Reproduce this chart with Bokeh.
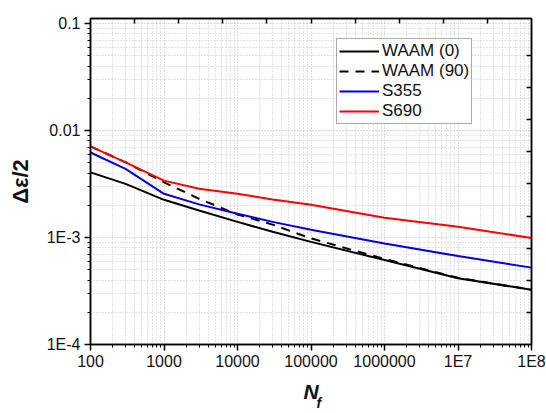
from bokeh.plotting import figure
from bokeh.models import (FixedTicker, LogAxis, Legend, LegendItem, Range1d, CustomJSTickFormatter)
from bokeh.embed import file_html
from bokeh.resources import INLINE

# ---- data ----
N = [100, 300, 1000, 3000, 1e4, 3e4, 1e5, 1e6, 1e7, 1e8]
waam0 = [0.00406, 0.00317, 0.00225, 0.00179, 0.00140, 0.00113, 0.00091, 0.000615, 0.000416, 0.000325]
waam90 = [0.0071, 0.00504, 0.00328, 0.00230, 0.00164, 0.00132, 0.00098, 0.00063, 0.00042, 0.000325]
s355 = [0.00623, 0.00437, 0.00256, 0.00204, 0.00167, 0.00140, 0.00118, 0.00088, 0.00067, 0.000523]
s690 = [0.0071, 0.00504, 0.0034, 0.00285, 0.00256, 0.00227, 0.00202, 0.00153, 0.00126, 0.00099]

x_ticks = [1e2, 1e3, 1e4, 1e5, 1e6, 1e7, 1e8]
x_tick_labels = ["100", "1000", "10000", "100000", "1000000", "1E7", "1E8"]
y_ticks = [1e-4, 1e-3, 1e-2, 1e-1]
y_tick_labels = ["1E-4", "1E-3", "0.01", "0.1"]
legend_labels = ["WAAM (0)", "WAAM (90)", "S355", "S690"]
x_title = "N"
x_title_sub = "f"
y_title = "Δε/2"

FONT = "Liberation Sans"

p = figure(width=546, height=413, x_axis_type="log", y_axis_type="log",
           x_range=Range1d(100, 1e8), y_range=Range1d(1e-4, 0.1113),
           output_backend="svg", toolbar_location=None,
           min_border_left=90, min_border_right=15, min_border_top=18, min_border_bottom=68)
p.background_fill_color = "white"
p.border_fill_color = "white"
p.outline_line_color = "black"
p.outline_line_width = 1.5

def minors(majors):
    out = []
    for m in majors[:-1]:
        out += [m * k for k in range(2, 10)]
    return out

p.xaxis.ticker = FixedTicker(ticks=x_ticks, minor_ticks=minors(x_ticks))
p.yaxis.ticker = FixedTicker(ticks=y_ticks, minor_ticks=minors(y_ticks))
p.xaxis.major_label_overrides = {t: l for t, l in zip(x_ticks, x_tick_labels)}
p.yaxis.major_label_overrides = {t: l for t, l in zip(y_ticks, y_tick_labels)}

for ax in (p.xaxis[0], p.yaxis[0]):
    ax.axis_line_color = "black"
    ax.axis_line_width = 1.5
    ax.major_tick_line_width = 1.5
    ax.minor_tick_line_width = 1
    ax.major_tick_in = 0
    ax.major_tick_out = 6
    ax.minor_tick_in = 0
    ax.minor_tick_out = 3
    ax.major_label_text_font = FONT
    ax.major_label_text_font_size = "16px"
    ax.major_label_text_color = "#111111"
    ax.axis_label_text_font = FONT
    ax.axis_label_text_color = "#111111"

p.xaxis.major_label_standoff = 2
p.yaxis.major_label_standoff = 4

p.yaxis.axis_label = y_title
p.yaxis.axis_label_text_font_size = "22px"
p.yaxis.axis_label_text_font_style = "bold"
p.yaxis.axis_label_standoff = 11

p.xaxis.axis_label = x_title
p.xaxis.axis_label_text_font_size = "21px"
p.xaxis.axis_label_text_font_style = "bold italic"
p.xaxis.axis_label_standoff = 7

for g in (p.xgrid[0], p.ygrid[0]):
    g.grid_line_color = "#b8b8b8"
    g.grid_line_dash = "1 2"
    g.grid_line_width = 1
    g.minor_grid_line_color = "#c8c8c8"
    g.minor_grid_line_dash = "1 2"
    g.minor_grid_line_width = 1

# subscript of the x title, as the label of an extra bare axis below
sub_axis = LogAxis(ticker=FixedTicker(ticks=[], minor_ticks=[]))
sub_axis.axis_line_color = None
sub_axis.major_tick_out = 0
sub_axis.minor_tick_out = 0
sub_axis.axis_label = "\u00a0" * 4 + x_title_sub
sub_axis.axis_label_text_font = FONT
sub_axis.axis_label_text_font_size = "14px"
sub_axis.axis_label_text_font_style = "bold italic"
sub_axis.axis_label_text_color = "#111111"
sub_axis.axis_label_standoff = -11
p.add_layout(sub_axis, "below")

# top and right frame axes with inward ticks, no labels
blank = CustomJSTickFormatter(code="return ''")
top_ticks = [10 ** (2 + 0.6 * k) for k in range(1, 10)]
right_ticks = [10 ** (-4 + 0.3 * k) for k in range(1, 10)]
top = LogAxis(ticker=FixedTicker(ticks=top_ticks, minor_ticks=[]), formatter=blank)
right = LogAxis(ticker=FixedTicker(ticks=right_ticks, minor_ticks=[]), formatter=blank)
for ax in (top, right):
    ax.axis_line_color = "black"
    ax.axis_line_width = 1.5
    ax.major_tick_in = 5
    ax.major_tick_out = 0
    ax.major_tick_line_width = 1.5
    ax.minor_tick_in = 0
    ax.minor_tick_out = 0
    ax.major_label_standoff = 0
p.add_layout(top, "above")
p.add_layout(right, "right")

r0 = p.line(N, waam0, line_color="black", line_width=2)
r1 = p.line(N, waam90, line_color="black", line_width=2, line_dash="9 7")
r2 = p.line(N, s355, line_color="#0000e0", line_width=2)
r3 = p.line(N, s690, line_color="#ff0000", line_width=2)

legend = Legend(items=[LegendItem(label=l, renderers=[r]) for l, r in zip(legend_labels, [r0, r1, r2, r3])],
                location=(246, 220))
legend.label_text_font = FONT
legend.label_text_font_size = "17px"
legend.label_text_color = "#111111"
legend.glyph_width = 40
legend.glyph_height = 20
legend.label_height = 20
legend.label_standoff = 3
legend.spacing = 0
legend.padding = 2
legend.margin = 0
legend.border_line_color = "#555555"
legend.border_line_width = 1.2
legend.background_fill_alpha = 1
p.add_layout(legend, "center")

open("out.html", "w").write(file_html(p, INLINE))
